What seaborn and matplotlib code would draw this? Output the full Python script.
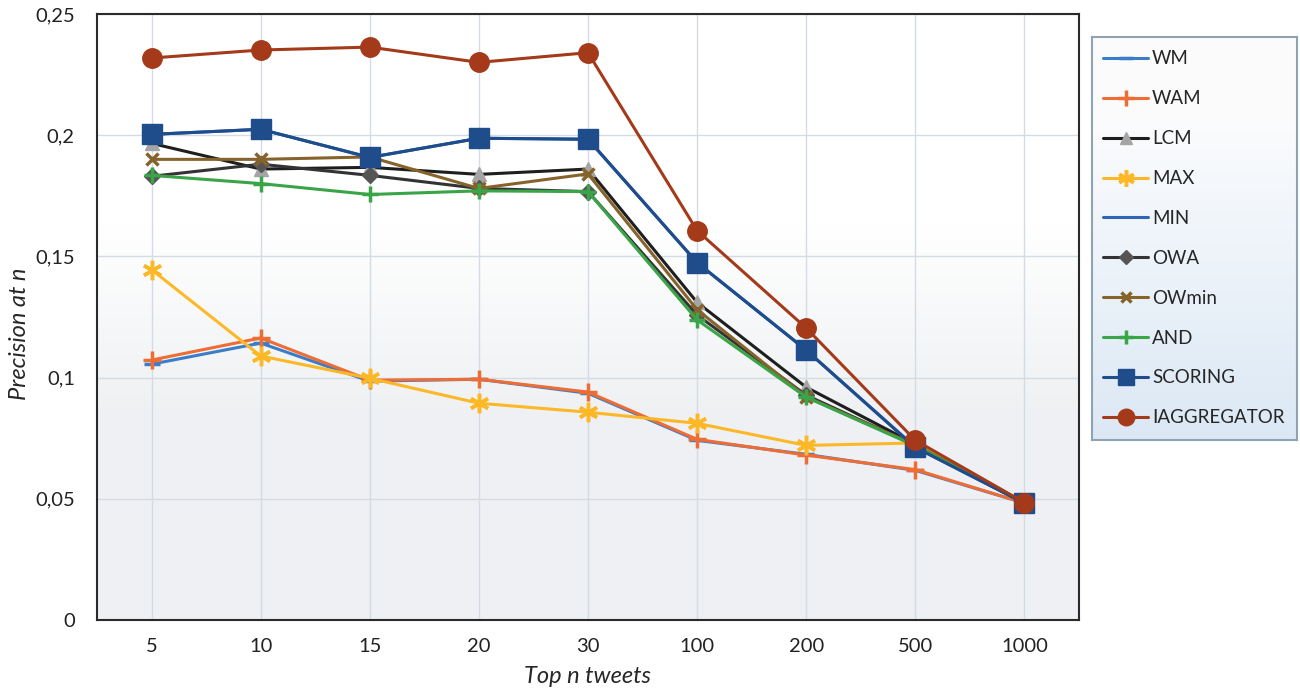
import numpy as np
import pandas as pd
import seaborn as sns
import matplotlib.pyplot as plt

# datos
top_n = ["5", "10", "15", "20", "30", "100", "200", "500", "1000"]
wm = [0.1055, 0.1142, 0.0985, 0.0993, 0.0935, 0.0741, 0.0683, 0.0617, 0.0482]
wam = [0.1072, 0.1163, 0.0989, 0.0993, 0.0940, 0.0745, 0.0680, 0.0620, 0.0482]
lcm = [0.1966, 0.1860, 0.1867, 0.1838, 0.1860, 0.1310, 0.0960, 0.0725, 0.0482]
maxx = [0.1445, 0.1089, 0.0997, 0.0894, 0.0857, 0.0811, 0.0720, 0.0730, 0.0482]
minn = [0.2003, 0.2024, 0.1908, 0.1987, 0.1983, 0.1474, 0.1113, 0.0712, 0.0482]
owa = [0.1830, 0.1880, 0.1834, 0.1780, 0.1767, 0.1258, 0.0927, 0.0720, 0.0482]
owmin = [0.1900, 0.1900, 0.1910, 0.1780, 0.1840, 0.1280, 0.0920, 0.0722, 0.0482]
and_ = [0.1834, 0.1800, 0.1755, 0.1770, 0.1767, 0.1238, 0.0919, 0.0718, 0.0482]
scoring = [0.2003, 0.2024, 0.1908, 0.1987, 0.1983, 0.1474, 0.1113, 0.0712, 0.0482]
iagg = [0.2318, 0.2351, 0.2363, 0.2300, 0.2340, 0.1606, 0.1204, 0.0741, 0.0484]

ytick_vals = [0, 0.05, 0.1, 0.15, 0.2, 0.25]
ytick_labels = ["0", "0,05", "0,1", "0,15", "0,2", "0,25"]

# estilo de cada serie: nombre, datos, color linea, marcador, color marcador, tam
series = [
    ("WM", wm, "#3A7DC9", "_", "#3A7DC9", 12),
    ("WAM", wam, "#ED6D35", "+", "#ED6D35", 13),
    ("LCM", lcm, "#1E1E1E", "^", "#A5A5A5", 10),
    ("MAX", maxx, "#FDB827", (6, 2, 0), "#FDB827", 14),
    ("MIN", minn, "#2F64B8", None, "#2F64B8", 0),
    ("OWA", owa, "#333333", "D", "#555555", 8),
    ("OWmin", owmin, "#86632A", "x", "#86632A", 9),
    ("AND", and_, "#3AA448", "+", "#3AA448", 12),
    ("SCORING", scoring, "#1F4C8A", "s", "#1F4C8A", 14),
    ("IAGGREGATOR", iagg, "#A43A1A", "o", "#A43A1A", 14),
]

sns.set_style("white")
plt.rcParams['font.family'] = ['Lato', 'DejaVu Sans']

fig = plt.figure(figsize=(13, 6.95), dpi=100)
ax = fig.add_axes([0.0746, 0.108, 0.7554, 0.872])
ax.set_zorder(1)

# fondo degradado del area de trazado
grad = np.linspace(0, 1, 256)
grad = np.clip((grad - 0.35) / 0.3, 0, 1)
top_c = np.array([1.0, 1.0, 1.0])
bot_c = np.array([0.937, 0.945, 0.953])
bg = (bot_c * (1 - grad[:, None]) + top_c * grad[:, None]).reshape(256, 1, 3)
ax.imshow(bg, extent=[0, 1, 0, 1], transform=ax.transAxes, aspect="auto",
          origin="lower", zorder=0)

for name, vals, lc, mk, mc, ms in series:
    sns.lineplot(x=top_n, y=vals, ax=ax, color=lc, label=name, sort=False,
                 marker=mk, markersize=ms, markerfacecolor=mc, markeredgecolor=mc,
                 markeredgewidth=2.5 if mk in ("_", "+", "x", (6, 2, 0)) else 1,
                 linewidth=2.2, zorder=3)

ax.set_xlim(-0.5, 8.5)
ax.set_ylim(0, 0.25)
ax.set_yticks(ytick_vals)
ax.set_yticklabels(ytick_labels)
ax.grid(True, color="#D3DCE4", linewidth=1)
ax.set_axisbelow(True)
for s in ax.spines.values():
    s.set_visible(True)
    s.set_color("#2A2A2A")
    s.set_linewidth(1.5)
ax.tick_params(axis="both", length=0, labelsize=14.5, colors="#222222")
ax.tick_params(axis="y", pad=16)
ax.tick_params(axis="x", pad=13)
ax.set_xlabel("Top n tweets", fontsize=17, style="italic", labelpad=8)
ax.set_ylabel("Precision at n", fontsize=17, style="italic")
ax.yaxis.set_label_coords(30 / 1300, 0.52, transform=fig.transFigure)

# caja de leyenda con degradado
lx, ly, lw, lh = 0.840, 0.367, 0.158, 0.580
ax_leg = fig.add_axes([lx, ly, lw, lh])
ax_leg.set_zorder(0)
lg = np.linspace(0, 1, 256)
top_l = np.array([0.985, 0.988, 0.992])
bot_l = np.array([0.86, 0.91, 0.96])
lgrad = np.clip(lg / 0.8, 0, 1)
limg = (bot_l * (1 - lgrad[:, None]) + top_l * lgrad[:, None]).reshape(256, 1, 3)
ax_leg.imshow(limg, extent=[0, 1, 0, 1], aspect="auto", origin="lower")
ax_leg.set_xticks([])
ax_leg.set_yticks([])
for s in ax_leg.spines.values():
    s.set_color("#8FA3B3")
    s.set_linewidth(1.5)

leg = ax.legend(loc="center left", bbox_to_anchor=(lx, ly, lw, lh),
                bbox_transform=fig.transFigure, frameon=False, fontsize=13.5,
                handlelength=2.4, handletextpad=0.2, labelspacing=1.22,
                borderaxespad=0.2, markerscale=0.85)

fig.savefig("out.png", dpi=100)
